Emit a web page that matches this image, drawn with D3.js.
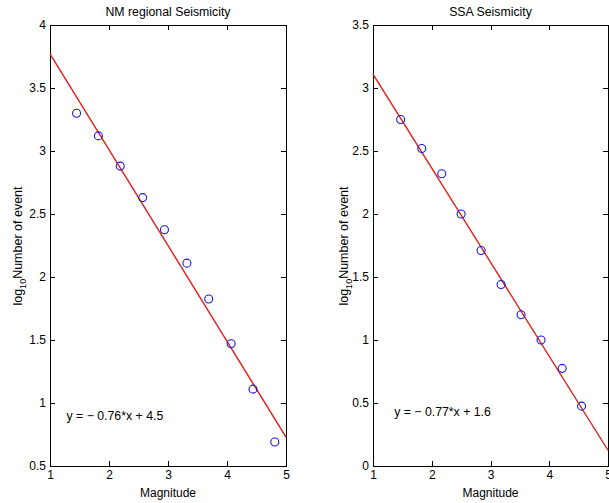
<!DOCTYPE html>
<html>
<head>
<meta charset="utf-8">
<script src="https://cdn.jsdelivr.net/npm/d3@7/dist/d3.min.js"></script>
<style>
  html, body { margin: 0; padding: 0; background: #fff; }
  svg { display: block; font-family: "Liberation Sans", Arial, Helvetica, sans-serif; }
  .axis path, .axis line { stroke: #000; stroke-width: 1; shape-rendering: crispEdges; }
  .axis text { font-size: 12px; fill: #000; }
</style>
</head>
<body>
<svg id="chart" width="609" height="503"></svg>
<script>
// Gutenberg-Richter plots: log10 event counts per magnitude bin, with fitted lines
const nmMagnitude = [1.45, 1.82, 2.19, 2.57, 2.94, 3.32, 3.69, 4.07, 4.44, 4.81];
const nmLogCount  = [3.30, 3.12, 2.88, 2.63, 2.375, 2.11, 1.825, 1.47, 1.11, 0.69];
const nmFit = { slope: -0.76, intercept: 4.53 };
const nmEquation = "y = \u2212 0.76*x + 4.5";

const ssaMagnitude = [1.47, 1.83, 2.17, 2.50, 2.84, 3.18, 3.52, 3.86, 4.22, 4.55];
const ssaLogCount  = [2.75, 2.52, 2.32, 2.00, 1.71, 1.44, 1.20, 1.00, 0.775, 0.475];
const ssaLine = { x: [1, 5], y: [3.11, 0.125] };
const ssaEquation = "y = \u2212 0.77*x + 1.6";

const xTicks = [1, 2, 3, 4, 5];
const nmYTicks = [0.5, 1, 1.5, 2, 2.5, 3, 3.5, 4];
const ssaYTicks = [0, 0.5, 1, 1.5, 2, 2.5, 3, 3.5];

const svg = d3.select("#chart");

function panel(opts) {
  const x = d3.scaleLinear().domain([1, 5]).range([opts.left, opts.right]);
  const y = d3.scaleLinear().domain(opts.yDomain).range([466, 25]);
  const g = svg.append("g");
  const fmt = d => String(d);

  // frame with inward ticks on all four sides
  g.append("g").attr("class", "axis").attr("transform", `translate(0,${y.range()[0]})`)
    .call(d3.axisBottom(x).tickValues(xTicks).tickFormat(fmt).tickSizeInner(-5).tickSizeOuter(0).tickPadding(4));
  g.append("g").attr("class", "axis").attr("transform", `translate(0,${y.range()[1]})`)
    .call(d3.axisTop(x).tickValues(xTicks).tickFormat("").tickSizeInner(-5).tickSizeOuter(0));
  g.append("g").attr("class", "axis").attr("transform", `translate(${x.range()[0]},0)`)
    .call(d3.axisLeft(y).tickValues(opts.yTicks).tickFormat(fmt).tickSizeInner(-5).tickSizeOuter(0).tickPadding(4));
  g.append("g").attr("class", "axis").attr("transform", `translate(${x.range()[1]},0)`)
    .call(d3.axisRight(y).tickValues(opts.yTicks).tickFormat("").tickSizeInner(-5).tickSizeOuter(0));

  // fitted line
  g.append("line")
    .attr("x1", x(opts.line.x[0])).attr("y1", y(opts.line.y[0]))
    .attr("x2", x(opts.line.x[1])).attr("y2", y(opts.line.y[1]))
    .attr("stroke", "#e01e1a").attr("stroke-width", 1.4);

  // observed points
  g.selectAll("circle.pt").data(opts.mag.map((m, i) => [m, opts.logN[i]]))
    .join("circle").attr("class", "pt")
    .attr("cx", d => x(d[0])).attr("cy", d => y(d[1])).attr("r", 4)
    .attr("fill", "none").attr("stroke", "#1a1ad6").attr("stroke-width", 1.1);

  // fit equation
  g.append("text").attr("x", x(opts.eqPos[0])).attr("y", y(opts.eqPos[1]))
    .attr("font-size", 12.3).text(opts.equation);

  // title
  g.append("text").attr("x", (x.range()[0] + x.range()[1]) / 2).attr("y", 16)
    .attr("text-anchor", "middle").attr("font-size", 12.3).text(opts.title);

  // x label
  g.append("text").attr("x", (x.range()[0] + x.range()[1]) / 2).attr("y", 497)
    .attr("text-anchor", "middle").attr("font-size", 12).text("Magnitude");

  // y label with subscript
  const yl = g.append("text")
    .attr("transform", `translate(${opts.yLabelX},246) rotate(-90)`)
    .attr("text-anchor", "middle").attr("font-size", 12.5);
  yl.append("tspan").text("log");
  yl.append("tspan").attr("font-size", 9).attr("dy", 4).text("10");
  yl.append("tspan").attr("dy", -4).text("Number of event");
}

panel({
  left: 50, right: 286, yDomain: [0.5, 4], yTicks: nmYTicks,
  mag: nmMagnitude, logN: nmLogCount,
  line: { x: [1, 5], y: [nmFit.slope * 1 + nmFit.intercept, nmFit.slope * 5 + nmFit.intercept] },
  equation: nmEquation, eqPos: [1.28, 0.865],
  title: "NM regional Seismicity", yLabelX: 22
});

panel({
  left: 373, right: 608, yDomain: [0, 3.5], yTicks: ssaYTicks,
  mag: ssaMagnitude, logN: ssaLogCount,
  line: ssaLine,
  equation: ssaEquation, eqPos: [1.36, 0.40],
  title: "SSA Seismicity", yLabelX: 348
});
</script>
</body>
</html>
